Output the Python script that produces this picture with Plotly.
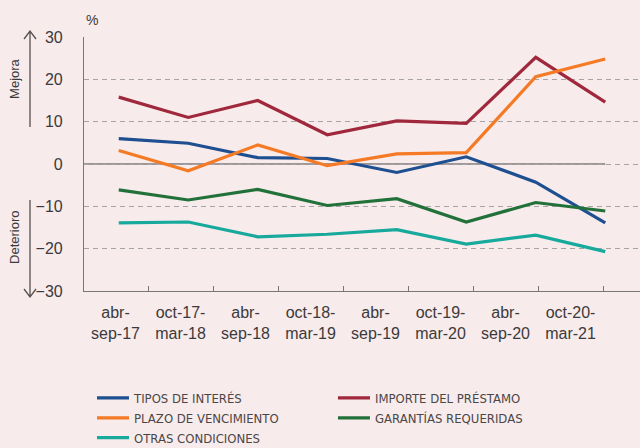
import plotly.graph_objects as go

periods = ["abr-<br>sep-17", "oct-17-<br>mar-18", "abr-<br>sep-18", "oct-18-<br>mar-19",
           "abr-<br>sep-19", "oct-19-<br>mar-20", "abr-<br>sep-20", "oct-20-<br>mar-21"]
x_idx = list(range(len(periods)))

tipos_interes = [6.0, 4.9, 1.5, 1.3, -2.0, 1.7, -4.3, -13.9]
importe_prestamo = [15.8, 11.0, 15.0, 6.9, 10.2, 9.6, 25.2, 14.6]
plazo_vencimiento = [3.2, -1.6, 4.5, -0.4, 2.4, 2.7, 20.6, 24.8]
garantias = [-6.1, -8.5, -6.0, -9.8, -8.2, -13.7, -9.1, -11.1]
otras = [-13.9, -13.7, -17.2, -16.6, -15.5, -18.9, -16.8, -20.7]

y_ticks = [30, 20, 10, 0, -10, -20, -30]

BG = "#f8ebeb"
GRID = "#a8a4a6"
AXIS = "#7a7577"
TXT = "#3c3a3b"

fig = go.Figure()
series = [
    ("TIPOS DE INTERÉS", tipos_interes, "#1d4f91", "legend"),
    ("IMPORTE DEL PRÉSTAMO", importe_prestamo, "#a0283c", "legend2"),
    ("PLAZO DE VENCIMIENTO", plazo_vencimiento, "#f47a25", "legend"),
    ("GARANTÍAS REQUERIDAS", garantias, "#23713a", "legend2"),
    ("OTRAS CONDICIONES", otras, "#17aa9c", "legend"),
]
for name, vals, col, lg in series:
    fig.add_trace(go.Scatter(x=x_idx, y=vals, name=name, mode="lines",
                             line=dict(color=col, width=3.2), legend=lg,
                             xaxis="x", yaxis="y"))

# invisible trace to carry the label axis
fig.add_trace(go.Scatter(x=x_idx, y=[None]*len(x_idx), xaxis="x2", yaxis="y",
                         showlegend=False, hoverinfo="skip", mode="lines"))

fig.add_shape(type="line", xref="x", yref="y", x0=-0.5, x1=7, y0=0, y1=0,
              line=dict(color="#807b7d", width=1.5), layer="below")

ARW = "#555052"
# Mejora arrow (up)
fig.add_shape(type="path", xref="paper", yref="paper", xsizemode="pixel", ysizemode="pixel",
              xanchor=-0.0971, yanchor=1.0236,
              path="M0,0 L0,-96 M-6,-8 L0,0 L6,-8",
              line=dict(color=ARW, width=1.3))
# Deterioro arrow (down)
fig.add_shape(type="path", xref="paper", yref="paper", xsizemode="pixel", ysizemode="pixel",
              xanchor=-0.0971, yanchor=-0.0236,
              path="M0,0 L0,97 M-6,8 L0,0 L6,8",
              line=dict(color=ARW, width=1.3))

font_narrow = "DejaVu Sans Condensed, Liberation Sans Narrow, sans-serif"

fig.update_layout(
    width=640, height=448,
    margin=dict(l=84, r=0, t=37, b=157, autoexpand=False),
    paper_bgcolor=BG, plot_bgcolor=BG,
    font=dict(family="Liberation Sans, Arial, sans-serif", color=TXT, size=16),
    xaxis=dict(range=[-0.5, 7.5], showticklabels=False, showgrid=False,
               zeroline=False, showline=True, linecolor=AXIS, linewidth=1.2,
               ticks="", automargin=False),
    xaxis2=dict(range=[-0.485, 8.069], overlaying="x", side="bottom", anchor="y",
                tickvals=x_idx, ticktext=periods, ticks="outside", ticklen=7,
                tickcolor="rgba(0,0,0,0)", showgrid=False, zeroline=False,
                showline=False, tickfont=dict(size=16, color=TXT), automargin=False,
                minor=dict(tickmode="linear", tick0=0.5, dtick=1, ticks="inside",
                           ticklen=5, tickcolor=AXIS, tickwidth=1)),
    yaxis=dict(range=[-30, 30], tickvals=y_ticks, showgrid=True, gridcolor=GRID,
               griddash="5px,4px", gridwidth=1, zeroline=False, showline=True,
               linecolor=AXIS, linewidth=1.2, ticks="outside", ticklen=17,
               tickcolor="rgba(0,0,0,0)", tickfont=dict(size=16, color=TXT),
               automargin=False),
    legend=dict(x=0.0144, y=-0.362, xanchor="left", yanchor="top",
                orientation="v", bgcolor="rgba(0,0,0,0)", tracegroupgap=0,
                font=dict(family=font_narrow, size=13, color="#4a4647"),
                itemwidth=32),
    legend2=dict(x=0.4478, y=-0.362, xanchor="left", yanchor="top",
                 orientation="v", bgcolor="rgba(0,0,0,0)", tracegroupgap=0,
                 font=dict(family=font_narrow, size=13, color="#4a4647"),
                 itemwidth=32),
    showlegend=True,
)

fig.add_annotation(text="%", xref="paper", yref="paper", x=0.0, y=1.067,
                   xanchor="left", yanchor="middle", showarrow=False,
                   font=dict(size=14, color=TXT))
fig.add_annotation(text="Mejora", xref="paper", yref="paper", x=-0.1241, y=0.835,
                   xanchor="center", yanchor="middle",
                   textangle=-90, showarrow=False, font=dict(size=13, color=TXT))
fig.add_annotation(text="Deterioro", xref="paper", yref="paper", x=-0.1241, y=0.209,
                   xanchor="center", yanchor="middle",
                   textangle=-90, showarrow=False, font=dict(size=13, color=TXT))

fig.write_html("out.html", config={"displayModeBar": False},
               post_script="document.body.style.margin='0px';document.body.style.overflow='hidden';")
